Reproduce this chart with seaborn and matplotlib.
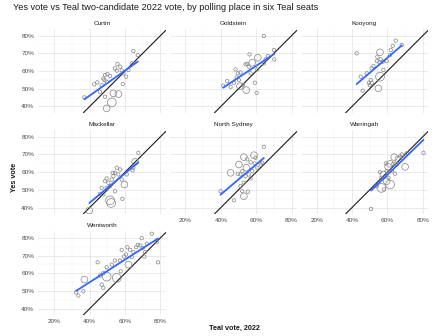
import numpy as np
import pandas as pd
import seaborn as sns
import matplotlib
matplotlib.use("Agg")
import matplotlib.pyplot as plt
from matplotlib.ticker import PercentFormatter, FixedLocator

# ---------------- data ----------------
seats = ["Curtin", "Goldstein", "Kooyong", "Mackellar", "North Sydney", "Warringah", "Wentworth"]

curtin_teal = [0.37, 0.426, 0.443, 0.477, 0.487, 0.50, 0.515, 0.483, 0.468, 0.496, 0.543, 0.557, 0.572,
               0.553, 0.581, 0.59, 0.606, 0.587, 0.647, 0.672, 0.638, 0.619, 0.534, 0.562, 0.525, 0.496,
               0.487, 0.458]
curtin_yes = [0.451, 0.525, 0.536, 0.558, 0.577, 0.583, 0.572, 0.549, 0.52, 0.54, 0.615, 0.64, 0.625,
              0.602, 0.604, 0.587, 0.568, 0.526, 0.713, 0.69, 0.643, 0.606, 0.474, 0.47, 0.423, 0.389,
              0.455, 0.483]
curtin_size = [1, 1, 1, 1, 1, 1, 1, 1, 1, 1, 1, 1, 1, 1, 1, 1, 1, 1, 1, 1, 1, 1, 2, 2, 3, 2, 1, 1]

goldstein_teal = [0.413, 0.643, 0.562, 0.483, 0.496, 0.511, 0.489, 0.502, 0.474, 0.455, 0.508, 0.543,
                  0.54, 0.549, 0.577, 0.558, 0.609, 0.653, 0.666, 0.70, 0.702, 0.643, 0.606, 0.592,
                  0.602, 0.525, 0.436, 0.568]
goldstein_yes = [0.517, 0.798, 0.694, 0.609, 0.587, 0.592, 0.564, 0.549, 0.534, 0.511, 0.515, 0.492,
                 0.638, 0.64, 0.647, 0.625, 0.675, 0.666, 0.685, 0.719, 0.666, 0.643, 0.609, 0.534,
                 0.477, 0.521, 0.543, 0.587]
goldstein_size = [1, 1, 1, 1, 1, 1, 1, 1, 1, 1, 2, 2, 1, 1, 2, 1, 2, 1, 1, 1, 1, 1, 1, 1, 1, 1, 1, 1]

kooyong_teal = [0.426, 0.647, 0.681, 0.630, 0.619, 0.558, 0.543, 0.562, 0.540, 0.555, 0.574, 0.596,
                0.521, 0.511, 0.483, 0.449, 0.506, 0.496, 0.511, 0.500, 0.558, 0.549, 0.460, 0.577, 0.615]
kooyong_yes = [0.700, 0.772, 0.747, 0.742, 0.719, 0.706, 0.681, 0.666, 0.657, 0.649, 0.653, 0.657,
               0.628, 0.615, 0.587, 0.568, 0.549, 0.534, 0.534, 0.521, 0.568, 0.502, 0.489, 0.606, 0.691]
kooyong_size = [1, 1, 1, 1, 1, 2, 1, 1, 1, 1, 1, 1, 1, 1, 1, 1, 1, 1, 1, 1, 3, 2, 1, 1, 1]

mackellar_teal = [0.398, 0.458, 0.468, 0.487, 0.496, 0.506, 0.515, 0.525, 0.534, 0.543, 0.553, 0.562,
                  0.572, 0.530, 0.515, 0.521, 0.585, 0.596, 0.581, 0.609, 0.647, 0.657, 0.642, 0.675,
                  0.496, 0.543, 0.477]
mackellar_yes = [0.383, 0.477, 0.511, 0.549, 0.564, 0.540, 0.521, 0.558, 0.577, 0.596, 0.625, 0.587,
                 0.615, 0.596, 0.441, 0.426, 0.449, 0.530, 0.558, 0.587, 0.625, 0.658, 0.610, 0.709,
                 0.511, 0.492, 0.474]
mackellar_size = [2, 1, 1, 1, 1, 1, 1, 1, 1, 1, 1, 1, 1, 1, 3, 3, 1, 2, 1, 1, 1, 2, 1, 1, 1, 1, 1]

northsydney_teal = [0.398, 0.455, 0.502, 0.530, 0.549, 0.587, 0.596, 0.643, 0.568, 0.545, 0.521, 0.511,
                    0.496, 0.540, 0.558, 0.577, 0.606, 0.625, 0.530, 0.511, 0.521, 0.553, 0.530, 0.474,
                    0.568, 0.591, 0.634]
northsydney_yes = [0.492, 0.596, 0.643, 0.685, 0.672, 0.696, 0.681, 0.743, 0.655, 0.625, 0.606, 0.587,
                   0.591, 0.577, 0.587, 0.606, 0.625, 0.643, 0.540, 0.521, 0.492, 0.489, 0.464, 0.441,
                   0.564, 0.649, 0.653]
northsydney_size = [1, 2, 2, 2, 1, 2, 1, 1, 1, 2, 1, 1, 1, 1, 1, 1, 1, 1, 1, 1, 1, 1, 2, 1, 1, 1, 1]

warringah_teal = [0.508, 0.804, 0.681, 0.700, 0.638, 0.662, 0.615, 0.634, 0.653, 0.700, 0.591, 0.604,
                  0.558, 0.577, 0.596, 0.625, 0.643, 0.606, 0.596, 0.615, 0.566, 0.540, 0.581, 0.672,
                  0.709, 0.566]
warringah_yes = [0.392, 0.709, 0.700, 0.694, 0.685, 0.672, 0.647, 0.647, 0.643, 0.630, 0.649, 0.630,
                 0.600, 0.587, 0.606, 0.606, 0.591, 0.568, 0.549, 0.530, 0.511, 0.521, 0.502, 0.689,
                 0.706, 0.568]
warringah_size = [1, 1, 1, 1, 2, 2, 2, 1, 1, 2, 1, 2, 1, 2, 1, 1, 1, 1, 2, 3, 3, 1, 1, 1, 1, 1]

wentworth_teal = [0.323, 0.336, 0.364, 0.370, 0.445, 0.458, 0.468, 0.477, 0.477, 0.496, 0.496, 0.525,
                  0.543, 0.553, 0.575, 0.594, 0.606, 0.613, 0.619, 0.638, 0.647, 0.662, 0.672, 0.685,
                  0.694, 0.700, 0.713, 0.723, 0.709, 0.751, 0.779, 0.572, 0.581, 0.628, 0.786]
wentworth_yes = [0.492, 0.474, 0.498, 0.564, 0.662, 0.587, 0.536, 0.517, 0.600, 0.581, 0.634, 0.649,
                 0.672, 0.574, 0.611, 0.694, 0.706, 0.747, 0.649, 0.691, 0.719, 0.747, 0.760, 0.757,
                 0.798, 0.743, 0.719, 0.766, 0.694, 0.823, 0.775, 0.672, 0.732, 0.732, 0.662]
wentworth_size = [1, 1, 1, 2, 1, 1, 1, 1, 1, 3, 1, 1, 1, 3, 1, 1, 1, 1, 2, 1, 1, 1, 1, 1,
                  1, 1, 1, 1, 1, 1, 1, 1, 1, 1, 1]

x_ticks = [0.2, 0.4, 0.6, 0.8]
y_ticks = [0.4, 0.5, 0.6, 0.7, 0.8]

title = "Yes vote vs Teal two-candidate 2022 vote, by polling place in six Teal seats"
x_label = "Teal vote, 2022"
y_label = "Yes vote"

# ---------------- build table ----------------
teal_all = [curtin_teal, goldstein_teal, kooyong_teal, mackellar_teal,
            northsydney_teal, warringah_teal, wentworth_teal]
yes_all = [curtin_yes, goldstein_yes, kooyong_yes, mackellar_yes,
           northsydney_yes, warringah_yes, wentworth_yes]
size_all = [curtin_size, goldstein_size, kooyong_size, mackellar_size,
            northsydney_size, warringah_size, wentworth_size]
frames = []
for s, t, y, z in zip(seats, teal_all, yes_all, size_all):
    frames.append(pd.DataFrame({"seat": s, "teal": t, "yes": y, "votes": z}))
df = pd.concat(frames, ignore_index=True)

# ---------------- style ----------------
sns.set_theme(style="whitegrid")
plt.rcParams["font.family"] = ["Liberation Sans", "DejaVu Sans"]

g = sns.FacetGrid(df, col="seat", col_wrap=3, col_order=seats, sharex=True, sharey=True,
                  height=1.0, aspect=1.3, despine=False)


def draw(data, **kws):
    ax = plt.gca()
    ax.axline((0, 0), (1, 1), color="#1a1a1a", lw=0.8, zorder=1)
    sns.scatterplot(data=data, x="teal", y="yes", size="votes", sizes=(6, 40),
                    size_norm=(1, 3), facecolor="none", edgecolor="#858585",
                    linewidth=0.5, legend=False, ax=ax, zorder=2)
    sns.regplot(data=data, x="teal", y="yes", scatter=False, ci=None, ax=ax,
                color="#3366FF", line_kws={"lw": 1.3, "zorder": 3})


g.map_dataframe(draw)

g.figure.set_size_inches(4.45, 3.36)
g.figure.set_dpi(100)
g.figure.subplots_adjust(left=0.0863, right=0.962, top=0.915, bottom=0.0625,
                         wspace=0.03, hspace=0.2)
g.set_titles("{col_name}", size=4.6, pad=2.5, color="#1a1a1a")
g.set_axis_labels("", "")

axes = g.axes.flat
for i, ax in enumerate(axes):
    ax.set_xlim(0.11, 0.83)
    ax.set_ylim(0.364, 0.84)
    ax.xaxis.set_major_locator(FixedLocator(x_ticks))
    ax.yaxis.set_major_locator(FixedLocator(y_ticks))
    ax.xaxis.set_minor_locator(FixedLocator([0.3, 0.5, 0.7]))
    ax.yaxis.set_minor_locator(FixedLocator([0.45, 0.55, 0.65, 0.75]))
    ax.xaxis.set_major_formatter(PercentFormatter(1, decimals=0))
    ax.yaxis.set_major_formatter(PercentFormatter(1, decimals=0))
    ax.grid(True, which="major", color="#e4e4e4", lw=0.55)
    ax.grid(True, which="minor", color="#f1f1f1", lw=0.35)
    for sp in ax.spines.values():
        sp.set_visible(False)
    ax.set_facecolor("white")
    ax.tick_params(which="both", length=0, labelsize=4.6, labelcolor="#4d4d4d", pad=3)
    ax.tick_params(axis="x", labelbottom=(i in (4, 5, 6)))
    ax.tick_params(axis="y", labelleft=(i in (0, 3, 6)))

fig = g.figure
fig.text(13 / 445, 1 - 7.5 / 336, title, ha="left", va="center", size=6.6, color="#1a1a1a")
fig.text(234 / 445, 1 - 328.5 / 336, x_label, ha="center", va="center", size=5.2,
         weight="bold", color="#1a1a1a")
fig.text(15 / 445, 1 - 177 / 336, y_label, ha="center", va="center", size=5.2,
         weight="bold", rotation=90, color="#1a1a1a")

fig.savefig("out.png", dpi=100)
